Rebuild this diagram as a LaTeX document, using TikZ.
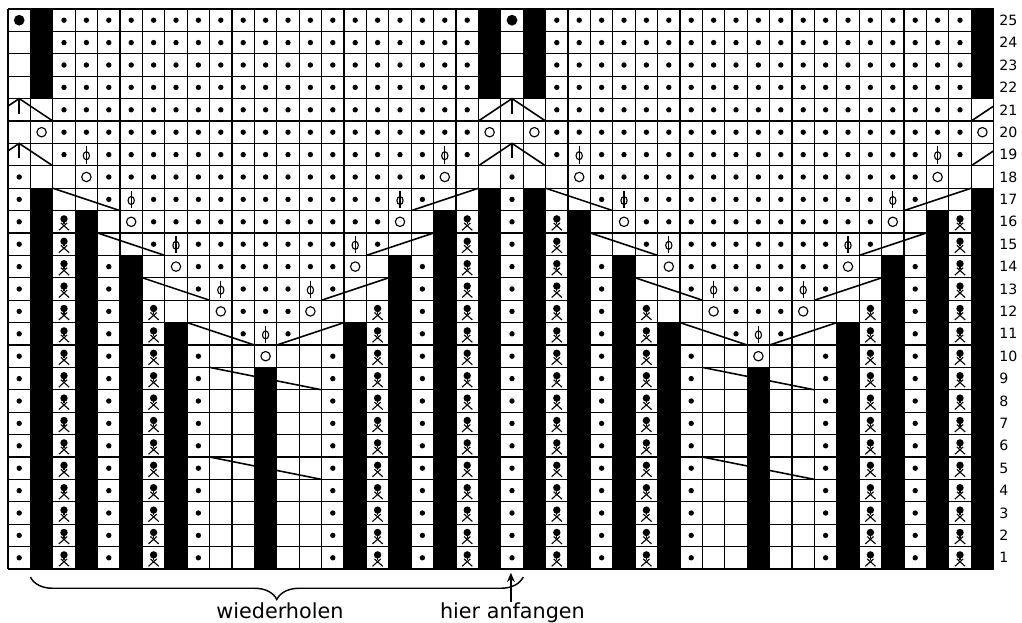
\documentclass[tikz,border=0pt]{standalone}
\usepackage{fontspec}
\setmainfont{DejaVu Sans}
\usetikzlibrary{decorations.pathreplacing,arrows.meta}

\tikzset{
  gridline/.style={line width=0.95pt,black},
  diagline/.style={line width=1.2pt,black},
  symline/.style={line width=0.85pt,black},
  rownum/.style={anchor=west,inner sep=0pt,font=\fontsize{10.8}{12}\selectfont},
  bottomlabel/.style={anchor=base,inner sep=0pt,font=\fontsize{15.8}{18}\selectfont}
}

% cell symbols: #1 = column (0..43), #2 = row (1..25)
\newcommand\kD[2]{\fill (#1+0.5,#2-0.5) circle (0.12);}
\newcommand\kB[2]{\fill (#1,#2-1) rectangle ++(1,1);}
\newcommand\kE[2]{}
\newcommand\kG[2]{\fill (#1+0.5,#2-0.5) circle (0.24);}
\newcommand\kO[2]{\draw[symline] (#1+0.5,#2-0.5) circle (0.21);}
\newcommand\kF[2]{\draw[symline] (#1+0.5,#2-0.55) ellipse (0.14 and 0.18);
  \draw[symline] (#1+0.5,#2-0.13) -- (#1+0.5,#2-0.9);}
\newcommand\kK[2]{\fill (#1+0.5,#2-0.37) circle (0.165);
  \draw[symline] (#1+0.5,#2-0.45) -- (#1+0.5,#2-0.6);
  \draw[symline] (#1+0.27,#2-0.88) -- (#1+0.64,#2-0.55)
                 (#1+0.73,#2-0.88) -- (#1+0.36,#2-0.55);}

\def\rowBase{D,B,K,B,D,B,K,B,D,E,E,B,E,E,D,B,K,B,D,B,K,B}
\def\rowX{D,B,K,B,D,B,K,B,D,E,E,O,E,E,D,B,K,B,D,B,K,B}
\def\rowXI{D,B,K,B,D,B,K,B,E,E,D,F,D,E,E,B,K,B,D,B,K,B}
\def\rowXII{D,B,K,B,D,B,K,E,E,O,D,D,D,O,E,E,K,B,D,B,K,B}
\def\rowXIII{D,B,K,B,D,B,E,E,D,F,D,D,D,F,D,E,E,B,D,B,K,B}
\def\rowXIV{D,B,K,B,D,B,E,O,D,D,D,D,D,D,D,O,E,B,D,B,K,B}
\def\rowXV{D,B,K,B,E,E,D,F,D,D,D,D,D,D,D,F,D,E,E,B,K,B}
\def\rowXVI{D,B,K,B,E,O,D,D,D,D,D,D,D,D,D,D,D,O,E,B,K,B}
\def\rowXVII{D,B,E,E,D,F,D,D,D,D,D,D,D,D,D,D,D,F,D,E,E,B}
\def\rowXVIII{D,E,E,O,D,D,D,D,D,D,D,D,D,D,D,D,D,D,D,O,E,E}
\def\rowXIX{E,E,D,F,D,D,D,D,D,D,D,D,D,D,D,D,D,D,D,F,D,E}
\def\rowXX{E,O,D,D,D,D,D,D,D,D,D,D,D,D,D,D,D,D,D,D,D,O}
\def\rowXXI{E,E,D,D,D,D,D,D,D,D,D,D,D,D,D,D,D,D,D,D,D,E}
\def\rowTop{E,B,D,D,D,D,D,D,D,D,D,D,D,D,D,D,D,D,D,D,D,B}
\def\rowXXV{G,B,D,D,D,D,D,D,D,D,D,D,D,D,D,D,D,D,D,D,D,B}

\begin{document}
\begin{tikzpicture}[x=0.6cm,y=0.6cm]
\useasboundingbox (-0.3571,-2.366) rectangle (45.268,25.402);
\fill[white] (-0.3571,-2.366) rectangle (45.268,25.402);

% grid
\draw[gridline,step=1] (0,0) grid (44,25);

% diagonal decrease / cable lines
\foreach \o in {0,22}{
  \foreach \r in {5,9}{\draw[diagline] (\o+9,\r) -- (\o+14,\r-1);}
  \draw[diagline] (\o+8,11) -- (\o+11,10);  \draw[diagline] (\o+12,10) -- (\o+15,11);
  \draw[diagline] (\o+6,13) -- (\o+9,12);   \draw[diagline] (\o+14,12) -- (\o+17,13);
  \draw[diagline] (\o+4,15) -- (\o+7,14);   \draw[diagline] (\o+16,14) -- (\o+19,15);
  \draw[diagline] (\o+2,17) -- (\o+5,16);   \draw[diagline] (\o+18,16) -- (\o+21,17);
}
\begin{scope}
  \clip (0,0) rectangle (44,25);
  \foreach \a in {0,22,44}{
    \foreach \r in {19,21}{
      \draw[diagline] (\a-1,\r-1) -- (\a+0.5,\r) -- (\a+2,\r-1);
      \draw[diagline] (\a+0.5,\r) -- (\a+0.5,\r-0.67);
    }
  }
\end{scope}

% cell symbols
\foreach \o in {0,22}{
  \foreach \r in {1,...,9}{
    \foreach \s [count=\c from 0] in \rowBase {\csname k\s\endcsname{\o+\c}{\r}}
  }
  \foreach \r/\pat in {10/rowX,11/rowXI,12/rowXII,13/rowXIII,14/rowXIV,15/rowXV,
      16/rowXVI,17/rowXVII,18/rowXVIII,19/rowXIX,20/rowXX,21/rowXXI,
      22/rowTop,23/rowTop,24/rowTop,25/rowXXV}{
    \expandafter\let\expandafter\curpat\csname\pat\endcsname
    \foreach \s [count=\c from 0] in \curpat {\csname k\s\endcsname{\o+\c}{\r}}
  }
}

% row numbers
\foreach \r in {1,...,25}{
  \node[rownum] (rn\r) at (44.24,\r-0.5) {\r};
}

% brace and labels
\draw[line width=1.1pt,decorate,decoration={brace,mirror,amplitude=0.6cm}]
  (1,-0.36) -- (23,-0.36);
\node[bottomlabel] (wdh) at (12.14,-2.19) {wiederholen};
\node[bottomlabel] (hier) at (22.52,-2.19) {hier anfangen};
\coordinate (arrowtip) at (22.45,-0.17);
\draw[line width=1.1pt,-{Stealth[length=7pt,width=6pt]}] (22.45,-1.47) -- (arrowtip);
\end{tikzpicture}
\end{document}
